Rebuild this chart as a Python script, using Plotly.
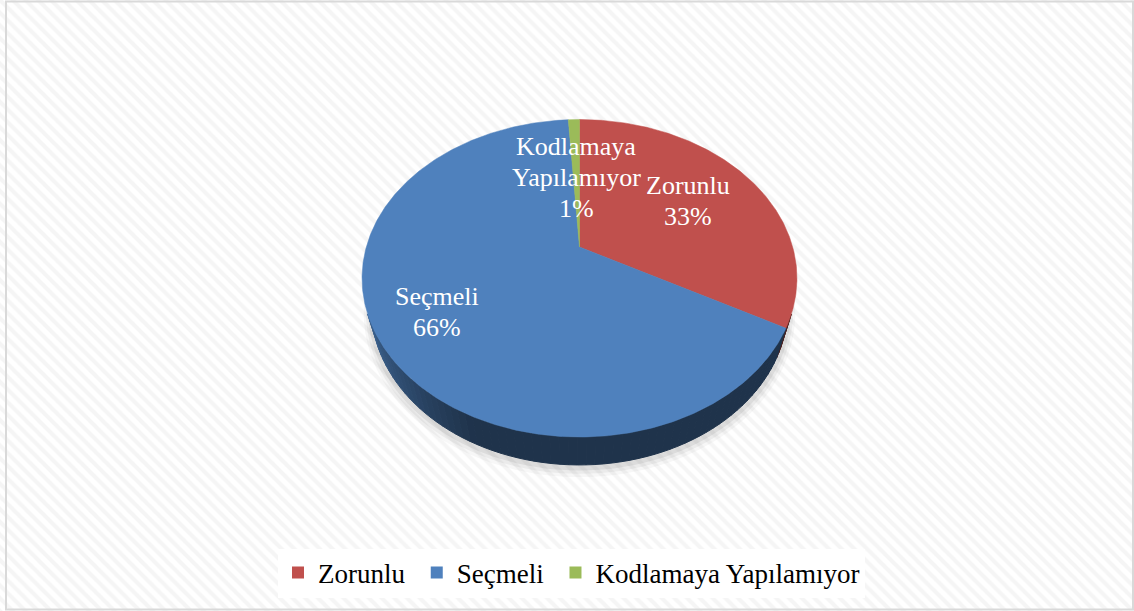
import math
import plotly.graph_objects as go

# ---- data ----
categories = ["Zorunlu", "Seçmeli", "Kodlamaya Yapılamıyor"]
values = [33, 66, 1]
colors = ["#C0504D", "#4F81BD", "#9BBB59"]

# ---- layout constants (pixels; axes map 1 unit = 1 px) ----
W, H = 1134, 611
CX, CY = 579.5, 247.0          # screen position of pie centre
F, SF, C = 213.2, 152.6, 0.197  # half-width scale, vertical scale, perspective
SA = SF / F                     # sin(tilt)
CA = math.sqrt(1 - SA * SA)     # cos(tilt)
DD = CA / C                     # camera distance (in pie radii)
FPX = F * DD                    # focal length in px
HD = 0.2137                     # pie thickness (in pie radii)
label_r = [0.63, 0.73, 0.50]    # radial position of each data label
FONT = "Liberation Serif"


def proj(theta, r=1.0, drop=0.0):
    t = math.radians(theta)
    X = r * math.sin(t)
    Z = r * math.cos(t)
    Y = -HD * drop
    yc = Y * CA + Z * SA
    zc = DD + Z * CA - Y * SA
    return CX + FPX * X / zc, CY - FPX * yc / zc


def shade(hexcol, k):
    r, g, b = int(hexcol[1:3], 16), int(hexcol[3:5], 16), int(hexcol[5:7], 16)
    return f"rgb({int(r*k)},{int(g*k)},{int(b*k)})"


A0 = math.degrees(math.acos(-1 / (DD * CA)))   # first visible side angle
A1 = 360 - A0


def side_factor(theta):
    lo = 205.0
    if theta <= lo:
        return 0.40
    return min(0.74, 0.40 + (theta - lo) / (A1 - lo) * 0.34)


total = sum(values)
starts, ends = [], []
acc = 0.0
for v in values:
    starts.append(acc / total * 360)
    acc += v
    ends.append(acc / total * 360)

fig = go.Figure()

# background with diagonal hatch
fig.add_trace(go.Scatter(
    x=[0, W, W, 0, 0], y=[0, 0, H, H, 0], fill="toself", mode="none",
    fillcolor="white",
    fillpattern=dict(shape="\\", fgcolor="#ebebeb", bgcolor="white", size=9, solidity=0.45),
    hoverinfo="skip", showlegend=False))

# soft shadow under the pie
for extra, dd, op in [(0.035, 8, 0.05), (0.025, 6, 0.07), (0.015, 4, 0.10)]:
    xs, ys = [], []
    for a in range(0, 361, 2):
        x, y = proj(a, 1 + extra, 1.0)
        xs.append(x)
        ys.append(y + dd * 0.5)
    fig.add_trace(go.Scatter(x=xs, y=ys, fill="toself", mode="none",
                             fillcolor=f"rgba(90,90,90,{op})",
                             hoverinfo="skip", showlegend=False))

# side walls (visible front part only)
for s, e, col in zip(starts, ends, colors):
    lo, hi = max(s, A0), min(e, A1)
    if lo >= hi:
        continue
    n = max(1, int(math.ceil((hi - lo) / 2.0)))
    step = (hi - lo) / n
    for i in range(n):
        a, b = lo + i * step, lo + (i + 1) * step
        pts = [a + (b - a) * j / 4 for j in range(5)]
        top = [proj(p, 1, 0) for p in pts]
        bot = [proj(p, 1, 1) for p in reversed(pts)]
        poly = top + bot + [top[0]]
        c = shade(col, side_factor((a + b) / 2))
        fig.add_trace(go.Scatter(x=[p[0] for p in poly], y=[p[1] for p in poly],
                                 fill="toself", mode="lines", fillcolor=c,
                                 line=dict(color=c, width=1),
                                 hoverinfo="skip", showlegend=False))

# top faces
for s, e, col, cat in zip(starts, ends, colors, categories):
    n = max(2, int(math.ceil((e - s) / 0.5)))
    arc = [proj(s + (e - s) * j / n) for j in range(n + 1)]
    poly = [(CX, CY)] + arc + [(CX, CY)]
    fig.add_trace(go.Scatter(x=[p[0] for p in poly], y=[p[1] for p in poly],
                             fill="toself", mode="lines", fillcolor=col,
                             line=dict(color=col, width=0.5),
                             name=cat, hoverinfo="skip", showlegend=False))

# legend entries
for i, (cat, col) in enumerate(zip(categories, colors)):
    pad = "&nbsp;" if i < len(categories) - 1 else ""
    fig.add_trace(go.Scatter(x=[None], y=[None], mode="markers", name=cat + pad,
                             marker=dict(symbol="square", size=12, color=col)))

# data labels
annotations = []
LS = 31
for s, e, v, cat, rr in zip(starts, ends, values, categories, label_r):
    mid = (s + e) / 2
    lx, ly = proj(mid, rr)
    pct = f"{round(v / total * 100)}%"
    lines = cat.split(" ") + [pct]
    nlines = len(lines)
    for i, txt in enumerate(lines):
        off = (i - (nlines - 1) / 2) * LS
        annotations.append(dict(x=lx, y=ly + off, xref="x", yref="y", text=txt,
                                showarrow=False, xanchor="center", yanchor="middle",
                                font=dict(family=FONT, size=26, color="white")))

fig.update_layout(
    width=W, height=H, autosize=False,
    margin=dict(l=0, r=0, t=0, b=0),
    paper_bgcolor="white", plot_bgcolor="white",
    xaxis=dict(range=[0, W], visible=False, fixedrange=True),
    yaxis=dict(range=[H, 0], visible=False, fixedrange=True),
    annotations=annotations,
    shapes=[dict(type="rect", xref="x", yref="y", x0=6, y0=1.5, x1=1133, y1=609.5,
                 line=dict(color="#d9d9d9", width=2))],
    legend=dict(orientation="h", x=278 / W, xanchor="left", y=1 - 573 / H, yanchor="middle",
                bgcolor="white", font=dict(family=FONT, size=27, color="black"),
                itemwidth=30, tracegroupgap=0),
    showlegend=True,
)

fig.write_html("out.html", config={"displayModeBar": False},
               post_script="document.body.style.margin='0px';")
